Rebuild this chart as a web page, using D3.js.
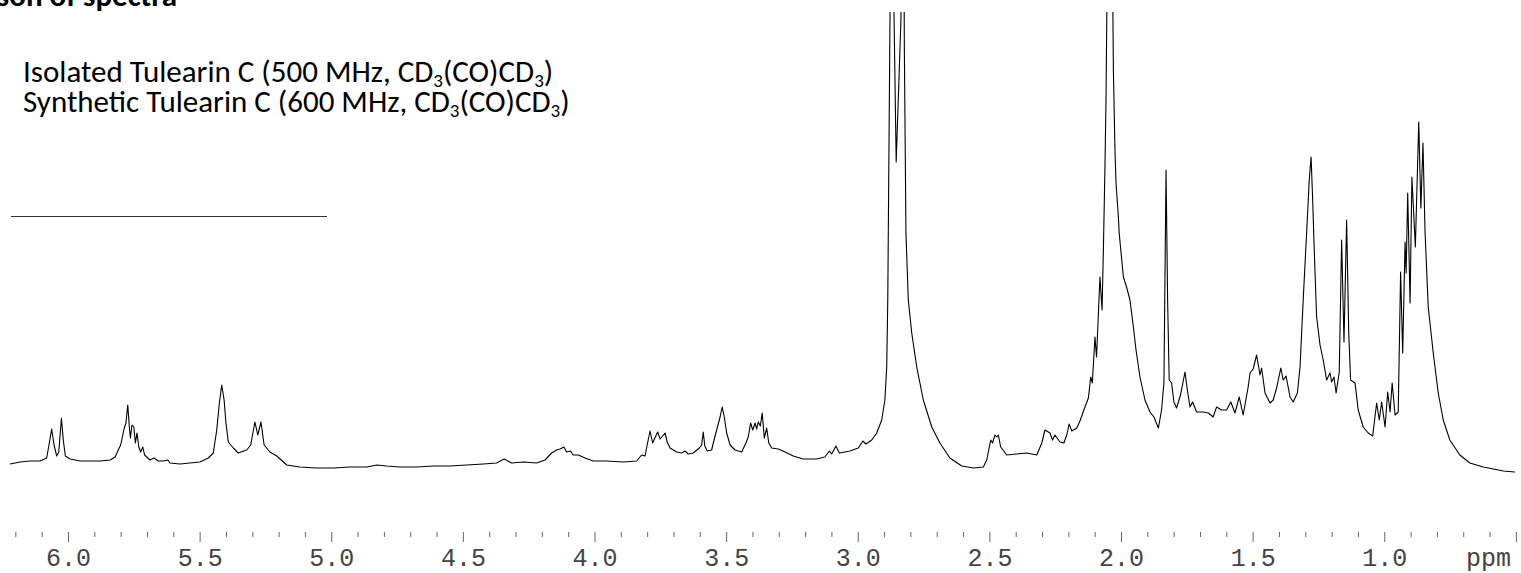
<!DOCTYPE html>
<html>
<head>
<meta charset="utf-8">
<script src="https://cdn.jsdelivr.net/npm/d3@7"></script>
<style>
  body { margin: 0; background: #fff; }
</style>
</head>
<body>
<div id="wrapper"></div>
<script>
// 1H NMR trace: [shift in ppm, intensity in arbitrary units]
const title = "Comparison of spectra"
const legendLines = [
	"Isolated Tulearin C (500 MHz, CD3(CO)CD3)",
	"Synthetic Tulearin C (600 MHz, CD3(CO)CD3)"
]
const majorTicks = [6.0, 5.5, 5.0, 4.5, 4.0, 3.5, 3.0, 2.5, 2.0, 1.5, 1.0, 0.5]
const tickLabels = ["6.0", "5.5", "5.0", "4.5", "4.0", "3.5", "3.0", "2.5", "2.0", "1.5", "1.0", ""]
const minorTicks = [6.2, 6.1, 5.9, 5.8, 5.7, 5.6, 5.4, 5.3, 5.2, 5.1, 4.9, 4.8, 4.7, 4.6,
	4.4, 4.3, 4.2, 4.1, 3.9, 3.8, 3.7, 3.6, 3.4, 3.3, 3.2, 3.1, 2.9, 2.8, 2.7, 2.6,
	2.4, 2.3, 2.2, 2.1, 1.9, 1.8, 1.7, 1.6, 1.4, 1.3, 1.2, 1.1, 0.9, 0.8, 0.7, 0.6]
const unitLabel = "ppm"

const spectrum = [
	[6.220, 6], [6.182, 8], [6.144, 9], [6.106, 9], [6.081, 12], [6.071, 27], [6.062, 41],
	[6.053, 25], [6.043, 14], [6.035, 18], [6.025, 52], [6.018, 30], [6.010, 14], [5.992, 11],
	[5.954, 9], [5.916, 9], [5.878, 9], [5.840, 10], [5.821, 13], [5.809, 20], [5.800, 25],
	[5.787, 41], [5.780, 47], [5.773, 65], [5.767, 43], [5.763, 32], [5.757, 45], [5.750, 43],
	[5.744, 27], [5.738, 37], [5.731, 23], [5.724, 18], [5.716, 23], [5.709, 15], [5.689, 10],
	[5.673, 12], [5.657, 9], [5.638, 9], [5.621, 10], [5.613, 7], [5.575, 6], [5.537, 7],
	[5.499, 8], [5.467, 12], [5.448, 17], [5.435, 40], [5.425, 67], [5.416, 85], [5.407, 70],
	[5.400, 47], [5.391, 28], [5.372, 22], [5.353, 17], [5.321, 20], [5.306, 25], [5.290, 48],
	[5.279, 35], [5.267, 48], [5.255, 25], [5.233, 18], [5.207, 14], [5.169, 5], [5.119, 3],
	[5.055, 2], [4.992, 2], [4.929, 3], [4.865, 3], [4.827, 5], [4.789, 4], [4.739, 3],
	[4.675, 3], [4.612, 4], [4.549, 4], [4.486, 5], [4.422, 6], [4.372, 7], [4.343, 11],
	[4.315, 7], [4.270, 8], [4.220, 7], [4.188, 10], [4.163, 17], [4.144, 20], [4.131, 21],
	[4.116, 23], [4.106, 18], [4.091, 19], [4.081, 15], [4.062, 15], [4.036, 12], [4.005, 9],
	[3.954, 9], [3.891, 8], [3.840, 9], [3.821, 15], [3.808, 14], [3.800, 25], [3.789, 39],
	[3.779, 27], [3.769, 33], [3.760, 38], [3.751, 31], [3.741, 34], [3.732, 37], [3.724, 28],
	[3.713, 22], [3.688, 18], [3.669, 17], [3.656, 19], [3.644, 16], [3.625, 17], [3.602, 22],
	[3.593, 25], [3.587, 38], [3.581, 24], [3.572, 19], [3.555, 20], [3.546, 30], [3.534, 42],
	[3.523, 53], [3.515, 63], [3.507, 53], [3.498, 37], [3.485, 25], [3.466, 20], [3.441, 18],
	[3.425, 27], [3.416, 33], [3.407, 47], [3.399, 40], [3.390, 47], [3.384, 41], [3.378, 48],
	[3.370, 44], [3.363, 57], [3.355, 32], [3.346, 42], [3.338, 27], [3.327, 22], [3.302, 21],
	[3.276, 18], [3.245, 14], [3.207, 11], [3.156, 11], [3.125, 13], [3.108, 19], [3.099, 16],
	[3.083, 24], [3.070, 17], [3.030, 19], [2.998, 22], [2.981, 29], [2.969, 26], [2.947, 30],
	[2.928, 37], [2.909, 50], [2.897, 70], [2.890, 103], [2.886, 170], [2.883, 270], [2.879, 403],
	[2.870, 720], [2.862, 450], [2.854, 308], [2.836, 450], [2.828, 720], [2.823, 420],
	[2.819, 300], [2.817, 237], [2.808, 170], [2.795, 137], [2.776, 103], [2.751, 70],
	[2.719, 43], [2.688, 27], [2.650, 12], [2.605, 4], [2.561, 2], [2.523, 3], [2.510, 10],
	[2.495, 30], [2.488, 27], [2.479, 35], [2.472, 33], [2.466, 35], [2.457, 23], [2.434, 15],
	[2.396, 16], [2.358, 17], [2.320, 15], [2.301, 27], [2.289, 40], [2.276, 38], [2.270, 37],
	[2.260, 30], [2.251, 35], [2.232, 28], [2.217, 27], [2.206, 35], [2.197, 46], [2.187, 39],
	[2.168, 42], [2.156, 49], [2.137, 63], [2.124, 72], [2.115, 93], [2.109, 87], [2.099, 133],
	[2.093, 113], [2.080, 193], [2.072, 160], [2.067, 220], [2.061, 303], [2.057, 370],
	[2.042, 800], [2.029, 400], [2.023, 320], [2.019, 287], [2.010, 253], [2.007, 237],
	[1.991, 193], [1.979, 183], [1.966, 170], [1.953, 143], [1.943, 120], [1.928, 93],
	[1.909, 70], [1.890, 58], [1.875, 53], [1.858, 42], [1.846, 60], [1.837, 87], [1.829, 300],
	[1.823, 170], [1.817, 90], [1.808, 87], [1.799, 68], [1.789, 62], [1.774, 75], [1.757, 98],
	[1.748, 80], [1.738, 63], [1.728, 68], [1.713, 58], [1.688, 58], [1.668, 57], [1.650, 53],
	[1.637, 63], [1.618, 60], [1.599, 60], [1.583, 68], [1.567, 57], [1.551, 73], [1.536, 55],
	[1.517, 83], [1.510, 97], [1.498, 101], [1.485, 115], [1.472, 95], [1.466, 102], [1.453, 77],
	[1.434, 67], [1.422, 70], [1.409, 82], [1.393, 102], [1.384, 90], [1.373, 94], [1.358, 73],
	[1.346, 68], [1.330, 77], [1.320, 103], [1.308, 170], [1.295, 237], [1.285, 290],
	[1.278, 313], [1.272, 270], [1.266, 220], [1.257, 153], [1.244, 125], [1.232, 110],
	[1.219, 90], [1.206, 97], [1.200, 88], [1.191, 93], [1.183, 77], [1.171, 98], [1.162, 230],
	[1.153, 128], [1.143, 250], [1.135, 137], [1.128, 90], [1.111, 87], [1.099, 60], [1.080, 43],
	[1.061, 37], [1.044, 34], [1.029, 67], [1.019, 50], [1.010, 68], [0.997, 43], [0.987, 78],
	[0.978, 58], [0.970, 87], [0.959, 55], [0.947, 58], [0.938, 198], [0.930, 117], [0.921, 228],
	[0.917, 197], [0.911, 277], [0.902, 167], [0.895, 293], [0.882, 223], [0.869, 348],
	[0.861, 262], [0.853, 327], [0.845, 237], [0.833, 163], [0.814, 117], [0.795, 77],
	[0.776, 50], [0.751, 30], [0.713, 15], [0.675, 7], [0.624, 3], [0.586, 1], [0.548, -1],
	[0.504, -2]
]

const width = 1521
const height = 573

const svg = d3.select("#wrapper")
	.append("svg")
	.attr("width", width)
	.attr("height", height)
	.style("display", "block")

const xScale = d3.scaleLinear()
	.domain([6.2, 0.5])
	.range([15.35, 1515.9])

const yScale = d3.scaleLinear()
	.domain([0, 460])
	.range([470, 10])

// title, mostly cut off at the top of the page
svg.append("text")
	.attr("x", 177)
	.attr("y", 6)
	.attr("text-anchor", "end")
	.style("font-family", "Carlito, Lato, sans-serif")
	.style("font-weight", "bold")
	.style("font-size", "31px")
	.text(title)

// legend text with subscript 3s
const legend = svg.append("g")
legendLines.forEach((line, i) => {
	const t = legend.append("text")
		.attr("x", 23)
		.attr("y", 82 + i * 30)
		.style("font-family", "Carlito, Lato, sans-serif")
		.style("font-size", "31px")
		.attr("fill", "#000")
	let shifted = false
	line.split(/(?<=D)(3)/).forEach(part => {
		if (part === "") return
		if (part === "3") {
			t.append("tspan").attr("dy", 5).style("font-size", "19px").text("3")
			shifted = true
		} else {
			t.append("tspan").attr("dy", shifted ? -5 : 0).text(part)
			shifted = false
		}
	})
})

svg.append("line")
	.attr("x1", 11)
	.attr("x2", 327)
	.attr("y1", 216.5)
	.attr("y2", 216.5)
	.attr("stroke", "#333")
	.attr("stroke-width", 1)

// spectrum
svg.append("clipPath")
	.attr("id", "plot-clip")
	.append("rect")
	.attr("x", 0)
	.attr("y", 12)
	.attr("width", width)
	.attr("height", 480)

const lineGenerator = d3.line()
	.x(d => xScale(d[0]))
	.y(d => yScale(d[1]))

svg.append("path")
	.datum(spectrum)
	.attr("clip-path", "url(#plot-clip)")
	.attr("d", lineGenerator)
	.attr("fill", "none")
	.attr("stroke", "#000")
	.attr("stroke-width", 1.1)
	.attr("stroke-linejoin", "round")

// axes
const axisY = 532

const minorAxis = svg.append("g")
	.attr("transform", `translate(0, ${axisY})`)
	.call(d3.axisBottom(xScale).tickValues(minorTicks).tickSize(5).tickFormat(""))
minorAxis.select(".domain").remove()
minorAxis.selectAll("text").remove()

const majorAxis = svg.append("g")
	.attr("transform", `translate(0, ${axisY})`)
	.call(d3.axisBottom(xScale)
		.tickValues(majorTicks)
		.tickSize(10)
		.tickFormat((d, i) => tickLabels[i]))
majorAxis.select(".domain").remove()
majorAxis.selectAll("text").filter(d => tickLabels[majorTicks.indexOf(d)] === "").remove()

svg.selectAll(".tick line")
	.attr("stroke", "#666")
	.attr("stroke-width", 1)

majorAxis.selectAll("text")
	.attr("y", 34)
	.attr("dy", 0)
	.attr("fill", "#444")
	.style("font-family", "'Liberation Mono', 'Courier New', monospace")
	.style("font-size", "25px")

svg.append("text")
	.attr("x", 1466)
	.attr("y", axisY + 34)
	.attr("fill", "#444")
	.style("font-family", "'Liberation Mono', 'Courier New', monospace")
	.style("font-size", "25px")
	.text(unitLabel)
</script>
</body>
</html>
